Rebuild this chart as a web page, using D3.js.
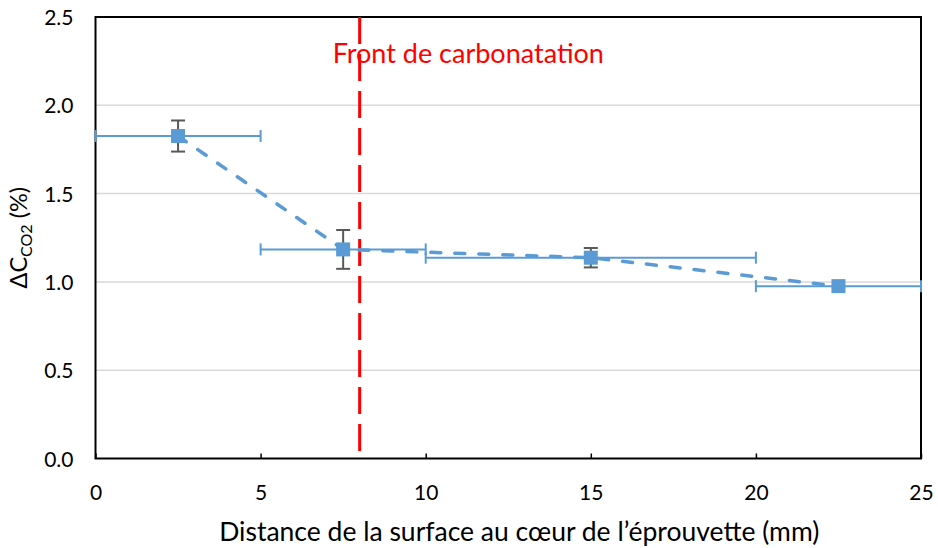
<!DOCTYPE html>
<html>
<head>
<meta charset="utf-8">
<script src="https://cdn.jsdelivr.net/npm/d3@7"></script>
<style>
  body { margin: 0; background: #fff; }
  text { font-family: Lato, "Open Sans", sans-serif; }
</style>
</head>
<body>
<svg id="chart" width="938" height="548"></svg>
<script>
// Measured CO2 content difference across the specimen depth
const distance = [2.5, 7.5, 15, 22.5];          // mm, centre of each slice
const deltaCO2 = [1.826, 1.184, 1.137, 0.976];  // %
const xErr = [2.5, 2.5, 5, 2.5];                // half slice thickness, mm
const yErr = [0.088, 0.11, 0.055, 0];           // %
const xTicks = [0, 5, 10, 15, 20, 25];
const yTicks = [0.0, 0.5, 1.0, 1.5, 2.0, 2.5];
const frontPosition = 8;                        // mm
const frontLabel = "Front de carbonatation";

const svg = d3.select("#chart");
const m = { left: 95.5, top: 17, right: 921, bottom: 458.5 };

const x = d3.scaleLinear().domain([0, 25]).range([m.left, m.right]);
const y = d3.scaleLinear().domain([0, 2.5]).range([m.bottom, m.top]);

const blue = "#5B9BD5";

// horizontal gridlines
svg.append("g").selectAll("line")
  .data(yTicks.filter(t => t > 0 && t < 2.5))
  .join("line")
  .attr("x1", m.left).attr("x2", m.right)
  .attr("y1", d => y(d)).attr("y2", d => y(d))
  .attr("stroke", "#D9D9D9").attr("stroke-width", 1.5);

// axes
const xAxis = svg.append("g")
  .attr("transform", `translate(0,${m.bottom})`)
  .call(d3.axisBottom(x).tickValues(xTicks).tickSize(-5).tickFormat(d3.format("d")));
xAxis.select(".domain").remove();
xAxis.selectAll(".tick line").attr("stroke", "#000").attr("stroke-width", 1.5);
xAxis.selectAll(".tick text")
  .attr("dy", 0).attr("y", 41)
  .attr("font-size", 21).attr("fill", "#000");

const yAxis = svg.append("g")
  .attr("transform", `translate(${m.left},0)`)
  .call(d3.axisLeft(y).tickValues(yTicks).tickSize(0).tickFormat(d3.format(".1f")));
yAxis.select(".domain").remove();
yAxis.selectAll(".tick text")
  .attr("x", -22).attr("dy", "0.36em")
  .attr("font-size", 21).attr("fill", "#000");

// plot frame
svg.append("rect")
  .attr("x", m.left).attr("y", m.top)
  .attr("width", m.right - m.left).attr("height", m.bottom - m.top)
  .attr("fill", "none").attr("stroke", "#000").attr("stroke-width", 2);

// carbonation front
svg.append("line")
  .attr("x1", x(frontPosition)).attr("x2", x(frontPosition))
  .attr("y1", m.top).attr("y2", m.bottom)
  .attr("stroke", "#FF0000").attr("stroke-width", 3)
  .attr("stroke-dasharray", "27 10");
svg.append("text")
  .attr("x", x(frontPosition) - 27).attr("y", 63)
  .attr("font-size", 27).attr("fill", "#FF0000")
  .text(frontLabel);

const pts = distance.map((d, i) => ({ x: d, y: deltaCO2[i], ex: xErr[i], ey: yErr[i] }));

// horizontal error bars
const hx = svg.append("g").attr("stroke", blue).attr("stroke-width", 2);
pts.forEach(p => {
  hx.append("line")
    .attr("x1", x(p.x - p.ex)).attr("x2", x(p.x + p.ex))
    .attr("y1", y(p.y)).attr("y2", y(p.y));
  [p.x - p.ex, p.x + p.ex].forEach(v => {
    hx.append("line")
      .attr("x1", x(v)).attr("x2", x(v))
      .attr("y1", y(p.y) - 6).attr("y2", y(p.y) + 6);
  });
});

// dashed connecting line
svg.append("path")
  .datum(pts)
  .attr("d", d3.line().x(d => x(d.x)).y(d => y(d.y)))
  .attr("fill", "none").attr("stroke", blue).attr("stroke-width", 3.5)
  .attr("stroke-linecap", "round")
  .attr("stroke-dasharray", "10 14");

// vertical error bars
const vx = svg.append("g").attr("stroke", "#595959").attr("stroke-width", 2);
pts.filter(p => p.ey > 0).forEach(p => {
  vx.append("line")
    .attr("x1", x(p.x)).attr("x2", x(p.x))
    .attr("y1", y(p.y - p.ey)).attr("y2", y(p.y + p.ey));
  [p.y - p.ey, p.y + p.ey].forEach(v => {
    vx.append("line")
      .attr("x1", x(p.x) - 7).attr("x2", x(p.x) + 7)
      .attr("y1", y(v)).attr("y2", y(v));
  });
});

// markers
svg.append("g").selectAll("rect")
  .data(pts)
  .join("rect")
  .attr("x", d => x(d.x) - 7).attr("y", d => y(d.y) - 7)
  .attr("width", 14).attr("height", 14)
  .attr("fill", blue);

// axis titles
svg.append("text")
  .attr("x", (m.left + m.right) / 2 + 11).attr("y", 541)
  .attr("text-anchor", "middle").attr("font-size", 26.5).attr("fill", "#000")
  .text("Distance de la surface au cœur de l’éprouvette (mm)");

const yt = svg.append("text")
  .attr("transform", `translate(27,${(m.top + m.bottom) / 2}) rotate(-90)`)
  .attr("text-anchor", "middle").attr("font-size", 23.5).attr("fill", "#000");
yt.append("tspan").text("ΔC");
yt.append("tspan").attr("font-size", 16).attr("dy", 5).text("CO2");
yt.append("tspan").attr("dy", -5).text(" (%)");
</script>
</body>
</html>
